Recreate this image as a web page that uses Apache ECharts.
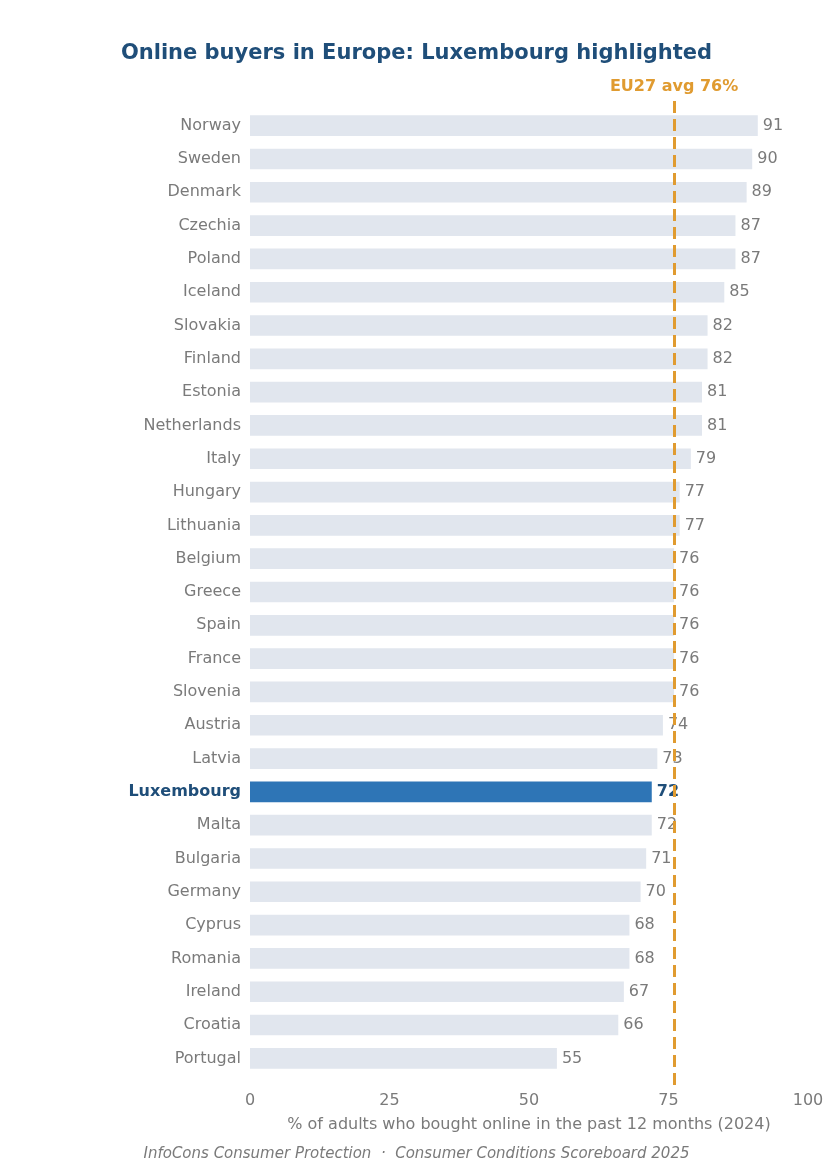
<!DOCTYPE html>
<html>
<head>
<meta charset="utf-8">
<script src="https://cdn.jsdelivr.net/npm/echarts@6/dist/echarts.min.js"></script>
<style>html,body{margin:0;padding:0;background:#fff}#chart{width:833px;height:1173px}</style>
</head>
<body>
<div id="chart"></div>
<script>
var countries = ['Norway','Sweden','Denmark','Czechia','Poland','Iceland','Slovakia','Finland','Estonia','Netherlands','Italy','Hungary','Lithuania','Belgium','Greece','Spain','France','Slovenia','Austria','Latvia','Luxembourg','Malta','Bulgaria','Germany','Cyprus','Romania','Ireland','Croatia','Portugal'];
var values = [91,90,89,87,87,85,82,82,81,81,79,77,77,76,76,76,76,76,74,73,72,72,71,70,68,68,67,66,55];
var highlight = 'Luxembourg';
var euAvg = 76;

var chart = echarts.init(document.getElementById('chart'));
var grey = '#7a7a7a';
var option = {
    title: [{
        text: 'Online buyers in Europe: Luxembourg highlighted',
        left: 'center', top: 38,
        textStyle: {color: '#1f4e79', fontSize: 21, fontWeight: 'bold', fontFamily: 'DejaVu Sans'}
    }, {
        text: 'InfoCons Consumer Protection  ·  Consumer Conditions Scoreboard 2025',
        left: 'center', top: 1142,
        textStyle: {color: grey, fontSize: 15, fontStyle: 'italic', fontWeight: 'normal', fontFamily: 'DejaVu Sans'}
    }],
    grid: {left: 250, right: 25, top: 109, bottom: 98},
    xAxis: {
        type: 'value', min: 0, max: 100, interval: 25,
        splitLine: {show: false},
        axisLine: {show: false}, axisTick: {show: false},
        axisLabel: {color: grey, fontSize: 16, margin: 18, fontFamily: 'DejaVu Sans'},
        name: '% of adults who bought online in the past 12 months (2024)',
        nameLocation: 'middle', nameGap: 42,
        nameTextStyle: {color: grey, fontSize: 16, fontFamily: 'DejaVu Sans'}
    },
    yAxis: {
        type: 'category', inverse: true, data: countries,
        axisLine: {show: false}, axisTick: {show: false},
        axisLabel: {
            fontSize: 16, margin: 9, fontFamily: 'DejaVu Sans',
            formatter: function (v) { return v === highlight ? '{h|' + v + '}' : '{n|' + v + '}'; },
            rich: {
                n: {color: grey, fontSize: 16, fontFamily: 'DejaVu Sans'},
                h: {color: '#1f4e79', fontSize: 16, fontWeight: 'bold', fontFamily: 'DejaVu Sans'}
            }
        }
    },
    series: [{
        type: 'bar', barWidth: '62%',
        data: values.map(function (v, i) {
            var h = countries[i] === highlight;
            return {
                value: v,
                itemStyle: {color: h ? '#2e75b6' : '#e1e6ee'},
                label: h ? {color: '#1f4e79', fontWeight: 'bold'} : {}
            };
        }),
        label: {show: true, position: 'right', distance: 5, color: grey, fontSize: 16, fontFamily: 'DejaVu Sans'},
        markLine: {
            symbol: 'none', silent: true,
            lineStyle: {color: '#e09b30', type: 'dashed', width: 3},
            label: {
                position: 'end', formatter: 'EU27 avg ' + euAvg + '%',
                color: '#e09b30', fontSize: 16, fontWeight: 'bold', fontFamily: 'DejaVu Sans', distance: 6
            },
            data: [[{coord: [euAvg, -0.8]}, {coord: [euAvg, 28.8]}]].map(function (p) { return p; })
        }
    }]
};
option.series[0].markLine.data = [[{xAxis: euAvg, y: 1085}, {xAxis: euAvg, y: 101}]];
chart.setOption(option);
window.onresize = function () { chart.resize(); };
</script>
</body>
</html>
